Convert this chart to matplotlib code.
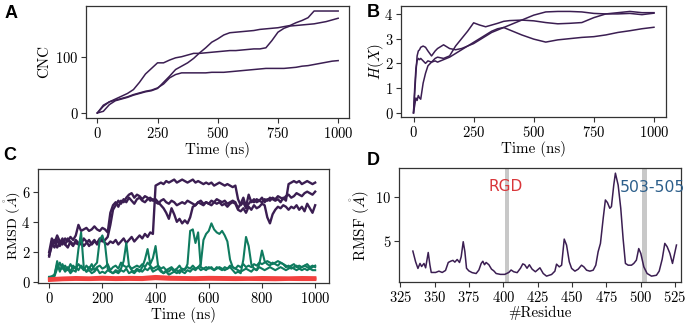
import numpy as np
import matplotlib
matplotlib.use("Agg")
import matplotlib.pyplot as plt

plt.rcParams['font.family'] = 'serif'
plt.rcParams['font.serif'] = ['cmr10']
plt.rcParams['mathtext.fontset'] = 'cm'
plt.rcParams['axes.formatter.use_mathtext'] = True
plt.rcParams['axes.unicode_minus'] = False

PURPLE = '#3b1e52'
GREEN = '#0f7b5f'
RED = '#f2413f'

# ---- panel A: CNC ----
a_time = np.arange(0, 1001, 25)
a_cnc1 = [0, 12, 20, 25, 30, 35, 42, 55, 70, 80, 90, 90, 95, 99, 101, 104, 107, 107, 108, 109,
          110, 111, 112, 112, 113, 114, 115, 115, 117, 130, 145, 152, 156, 157, 158, 159, 160, 162, 164, 167, 170]
a_cnc2 = [0, 3, 15, 22, 25, 28, 32, 35, 38, 40, 44, 55, 66, 78, 84, 90, 98, 108, 117, 127,
          133, 140, 144, 145, 146, 147, 148, 150, 151, 152, 153, 155, 157, 162, 166, 171, 183, 183, 183, 183, 183]
a_cnc3 = [0, 14, 20, 23, 26, 29, 33, 36, 39, 41, 45, 52, 63, 69, 72, 72, 72, 72, 72, 73,
          73, 73, 74, 75, 76, 77, 78, 79, 80, 80, 80, 80, 81, 82, 84, 85, 87, 89, 91, 93, 94]

# ---- panel B: H(X) ----
b_time = [0, 5, 10, 15, 20, 25, 30, 40, 50, 60, 75, 90, 100, 125, 150, 175, 200, 225, 250, 275, 300,
          325, 350, 375, 400, 450, 500, 550, 600, 650, 700, 750, 800, 850, 900, 950, 1000]
b_h1 = [0, 1.0, 1.8, 2.1, 2.2, 2.15, 2.2, 2.1, 2.0, 2.1, 2.05, 2.2, 2.25, 2.2, 2.3, 2.7, 3.0, 3.3, 3.64, 3.55, 3.48,
        3.55, 3.62, 3.7, 3.73, 3.75, 3.72, 3.65, 3.6, 3.62, 3.65, 3.85, 4.0, 4.05, 4.1, 4.05, 4.05]
b_h2 = [0, 0.8, 1.6, 2.3, 2.5, 2.55, 2.65, 2.7, 2.65, 2.5, 2.3, 2.5, 2.6, 2.75, 2.6, 2.55, 2.6, 2.7, 2.8, 2.95, 3.1,
        3.25, 3.35, 3.45, 3.55, 3.75, 3.95, 4.08, 4.1, 4.1, 4.08, 4.02, 4.0, 4.0, 4.02, 3.97, 4.03]
b_h3 = [0, 0.3, 0.6, 0.5, 0.7, 0.6, 0.55, 1.2, 1.6, 1.9, 2.05, 2.1, 2.05, 2.15, 2.25, 2.4, 2.55, 2.7, 2.85, 3.0, 3.15,
        3.3, 3.4, 3.45, 3.35, 3.15, 2.98, 2.86, 2.95, 3.0, 3.05, 3.08, 3.15, 3.25, 3.32, 3.4, 3.46]

# ---- panel C: RMSD ----
c_time = np.arange(0, 1001, 10)
c_purple1 = [1.7, 2.6, 2.3, 2.8, 2.4, 2.7, 2.5, 2.9, 2.6, 2.4, 2.8, 2.6, 2.5, 2.9, 2.7, 2.4, 2.6, 2.8, 2.5, 2.7,
             2.9, 2.6, 2.5, 2.7, 2.6, 2.8, 2.5, 2.7, 2.9, 2.6, 2.8, 3.0, 2.7, 2.9, 3.1, 2.9, 3.2, 3.0, 3.3, 3.2,
             6.4, 6.5, 6.6, 6.5, 6.7, 6.6, 6.7, 6.8, 6.6, 6.7, 6.8, 6.7, 6.6, 6.7, 6.8, 6.6, 6.7, 6.6, 6.5, 6.6,
             6.5, 6.6, 6.4, 6.5, 6.6, 6.5, 6.4, 6.5, 6.4, 6.3, 6.4,
             5.5, 5.1, 5.3, 4.9, 5.2, 5.4, 5.3, 5.5, 5.4, 5.3, 5.5, 5.4, 5.6, 5.5, 5.4, 5.5, 5.3, 5.6, 5.4,
             6.5, 6.6, 6.7, 6.6, 6.7, 6.5, 6.6, 6.7, 6.6, 6.5, 6.6]
c_purple2 = [2.0, 2.9, 2.6, 3.1, 2.7, 2.5, 2.9, 2.7, 3.0, 2.8, 3.1,
             3.8, 3.4, 3.5, 3.6, 3.4, 3.5, 3.7, 3.5, 3.4, 3.6, 3.5,
             3.3, 4.6, 5.1, 5.3, 5.0, 5.4, 5.3, 5.6, 5.8, 5.9, 5.6, 5.8, 5.7, 5.5, 5.7, 5.6, 5.4, 5.5,
             5.3, 5.2, 5.4, 5.5, 5.3, 5.2, 5.4, 5.3, 5.1, 5.2, 5.3, 5.2, 5.4, 5.3, 5.2, 5.1, 5.3, 5.4, 5.2, 5.3,
             5.2, 5.4, 5.3, 5.5, 5.4, 5.3, 5.4, 5.2, 5.3, 5.4, 5.3,
             4.9, 5.2, 5.6, 5.0, 5.8, 5.3, 5.5, 5.3, 5.4, 5.6, 5.3, 5.5, 5.4, 5.6, 5.5, 5.7, 5.6, 5.5, 5.7, 5.8,
             5.6, 5.7, 5.9, 5.8, 5.7, 5.9, 6.0, 5.9, 5.8, 6.0]
c_purple3 = [1.8, 2.4, 2.8, 2.3, 2.6, 2.9, 2.5, 2.3, 2.7, 2.5, 2.6,
             2.5, 2.7, 2.4, 2.6, 2.8, 2.5, 2.7, 2.6, 2.9, 2.7, 2.8, 3.0,
             3.8, 4.8, 5.1, 5.4, 5.2, 5.5, 5.3, 5.6, 5.4, 5.2, 5.5, 5.6, 5.4, 5.3, 5.5, 5.6, 5.4,
             5.5, 5.3, 5.1, 4.9, 4.6, 4.2, 4.9, 4.5, 4.0, 4.2, 3.9, 4.1, 3.9, 4.3, 5.0, 5.1, 5.3, 5.2, 5.1, 5.3,
             5.2, 5.1, 5.3, 5.2, 5.3, 5.1, 5.2, 5.0, 5.2, 5.3, 5.2,
             4.8, 4.7, 4.9, 4.6, 5.0, 4.8, 5.1, 4.9, 5.0, 5.2, 5.1, 4.3, 3.9, 4.5, 4.8, 5.0, 4.9, 5.1, 5.0, 4.8,
             5.0, 4.9, 5.1, 4.8, 5.0, 4.7, 5.2, 4.9, 4.6, 5.1]
c_green1 = [0.35, 0.4, 0.5, 1.2, 0.8, 1.0, 0.7, 0.9, 0.6, 0.8, 0.7, 2.2, 3.3, 1.0, 0.7, 0.8, 0.6, 0.7, 0.9, 0.6,
            0.7, 0.6, 0.8, 0.7, 0.6, 0.8, 0.7, 0.9, 1.4, 2.6, 1.1, 0.8, 0.7, 0.9, 0.8, 0.7, 0.9, 0.8, 1.0, 0.7,
            0.8, 0.9, 0.7, 0.6, 0.8, 0.7, 0.9, 0.7, 0.8, 0.6, 0.9, 0.8, 1.2, 3.4, 3.5, 2.6, 3.3, 1.0, 0.9, 0.8,
            1.0, 0.9, 0.8, 1.0, 0.9, 0.8, 1.0, 0.9, 1.1, 1.0, 0.9, 1.1, 1.0, 1.2, 1.0, 1.1, 1.0, 1.2, 1.1, 1.3,
            1.2, 1.3, 1.4, 1.3, 1.2, 1.3, 1.4, 1.3, 1.2, 1.0, 1.1, 0.9, 1.0, 1.1, 0.9, 1.0, 1.1, 1.0, 0.9, 1.0, 1.1]
c_green2 = [0.3, 0.35, 0.4, 0.9, 1.3, 0.9, 1.1, 0.8, 1.2, 0.9, 1.0, 0.8, 1.1, 0.9, 0.7, 1.0, 0.8, 1.1, 1.3, 2.8,
            3.1, 2.5, 0.9, 0.7, 0.6, 0.7, 0.6, 0.8, 0.7, 0.9, 0.6, 0.7, 0.6, 0.8, 0.7, 1.0, 1.5, 2.2, 1.2, 1.6,
            2.4, 1.0, 0.8, 0.6, 0.7, 0.5, 0.6, 0.7, 0.6, 0.8, 0.7, 0.6, 0.8, 0.7, 0.9, 0.8, 1.0, 1.2, 2.8, 3.2,
            3.4, 3.9, 3.5, 3.3, 3.2, 3.4, 3.1, 2.7, 1.5, 1.0, 0.9, 0.8, 0.7, 0.8, 0.9, 0.8, 0.7, 0.9, 0.8, 1.0,
            0.9, 0.8, 0.9, 1.0, 0.9, 0.8, 0.9, 1.0, 0.9, 0.8, 0.9, 1.0, 0.9, 0.8, 0.9, 0.8, 0.9, 0.8, 0.9, 0.8, 0.8]
c_green3 = [0.35, 0.3, 0.45, 1.4, 0.7, 1.2, 0.8, 1.0, 0.7, 1.1, 0.9, 1.2, 1.0, 0.8, 1.1, 0.9, 1.2, 0.8, 1.0, 1.1,
            0.9, 1.0, 1.2, 0.8, 1.0, 1.1, 0.9, 1.3, 1.1, 1.0, 1.1, 0.9, 1.0, 1.1, 1.0, 1.2, 1.0, 1.3, 1.1, 0.9,
            1.0, 1.1, 0.9, 1.0, 0.8, 0.9, 1.0, 0.8, 0.9, 1.1, 0.8, 0.9, 1.0, 0.9, 1.1, 0.9, 1.0, 0.8, 0.9, 1.0,
            0.9, 1.0, 0.8, 0.9, 1.0, 0.9, 0.8, 0.9, 1.0, 0.8, 0.6, 0.7, 0.6, 1.5, 3.0, 2.4, 1.2, 0.9, 0.8, 1.2,
            2.1, 1.4, 1.2, 1.1, 1.3, 1.2, 1.1, 1.3, 1.2, 1.1, 1.0, 1.1, 1.2, 1.0, 1.1, 1.0, 1.1, 1.2, 1.0, 1.1, 1.0]
c_red_time = np.arange(0, 1001, 50)
c_red1 = [0.18, 0.24, 0.26, 0.24, 0.27, 0.24, 0.26, 0.25, 0.36, 0.28, 0.26, 0.24, 0.27, 0.25, 0.24, 0.26, 0.25, 0.24, 0.26, 0.25, 0.24]
c_red2 = [0.25, 0.3, 0.33, 0.31, 0.35, 0.32, 0.34, 0.33, 0.4, 0.35, 0.33, 0.32, 0.34, 0.33, 0.32, 0.31, 0.33, 0.32, 0.31, 0.33, 0.32]
c_red3 = [0.1, 0.15, 0.17, 0.16, 0.18, 0.16, 0.17, 0.16, 0.22, 0.18, 0.17, 0.16, 0.18, 0.17, 0.16, 0.17, 0.16, 0.15, 0.17, 0.16, 0.16]

# ---- panel D: RMSF ----
d_residue = [334.1, 336.1, 337.8, 339.3, 340.5, 342.2, 343.4, 345.3, 346.5, 347.5, 350.7, 353.1, 355.5, 357.9,
             359.9, 361.6, 363.3, 364.7, 366.4, 368.1, 369.3, 370.8, 372, 373.2, 374.9, 377.3, 380.2, 382.2,
             383.9, 385.1, 386.3, 387.5, 389.5, 391.4, 393.1, 394.8, 397.9, 401.1, 404, 405.7, 407.6, 410.1,
             412.5, 414.2, 415.6, 417.3, 419, 421, 423.4, 426.7, 429.1, 431.5, 435.2, 437.6, 438.8, 440.8,
             442.5, 444.4, 446.1, 448.1, 449.8, 452.2, 454.6, 457, 458.7, 460.7, 463.1, 465.5, 467.4, 469.1,
             470.8, 472.8, 474.4, 475.9, 477.6, 478.8, 480.5, 481.7, 483.7, 485.6, 487.3, 489, 491, 493.4,
             495.1, 497, 498.7, 500.2, 502.4, 504.8, 508, 511.6, 513.6, 515.8, 517.7, 519.4, 521.4, 523.3, 526.2]
d_rmsf = [3.86, 2.64, 1.88, 2.45, 2.1, 2.45, 1.95, 3.7, 2.3, 1.42, 1.42, 1.57, 1.42, 1.65,
          2.56, 2.7, 2.8, 2.6, 2.9, 2.56, 3.2, 4.93, 3.8, 1.9, 1.6, 1.4, 1.3, 1.7,
          2.45, 2.7, 2.3, 2.56, 2.3, 1.8, 1.6, 1.3, 1.2, 1.2, 1.42, 1.7, 1.5, 1.4,
          1.9, 2.4, 2.3, 1.9, 2.3, 1.8, 1.5, 1.95, 1.3, 1.0, 1.19, 1.57, 2.37, 2.06,
          2.25, 5.23, 4.55, 2.63, 1.88, 1.57, 1.8, 2.25, 2.06, 1.68, 1.57, 1.68, 2.25, 3.78,
          4.74, 7.6, 9.7, 9.4, 8.75, 8.94, 11.4, 12.76, 11.4, 8.75, 5.3, 2.45, 2.25, 2.25,
          2.45, 2.83, 4.15, 3.6, 2.06, 1.3, 1.0, 1.1, 1.57, 2.94, 4.74, 4.36, 3.6, 2.45, 4.55]
d_bands = [(401.2, 404.1), (500.8, 504.4)]

W, H = 692, 325
fig = plt.figure(figsize=(W / 100, H / 100), dpi=100)


def box(l, r, t, b):
    return [l / W, 1 - b / H, (r - l) / W, (b - t) / H]


axA = fig.add_axes(box(86, 349, 6, 118))
axB = fig.add_axes(box(401, 666, 6, 117))
axC = fig.add_axes(box(38, 329, 169, 283))
axD = fig.add_axes(box(399, 681, 168, 282))

LBL = 10.8
for ax in (axA, axB, axC, axD):
    for s in ax.spines.values():
        s.set_color('#333333')
        s.set_linewidth(0.9)
    ax.tick_params(labelsize=10.5, length=3.5, width=0.8, color='#333333', pad=2)

for y in (a_cnc1, a_cnc2, a_cnc3):
    axA.plot(a_time, y, color=PURPLE, lw=1.1)
axA.set_xlim(-47, 1045)
axA.set_ylim(-9, 192)
axA.set_xticks([0, 250, 500, 750, 1000])
axA.set_yticks([0, 100])
axA.set_xlabel('Time (ns)', fontsize=LBL, labelpad=1)
axA.set_ylabel('CNC', fontsize=LBL)
axA.yaxis.set_label_coords(-0.133, 0.5)

for y in (b_h1, b_h2, b_h3):
    axB.plot(b_time, y, color=PURPLE, lw=1.1)
axB.set_xlim(-52, 1050)
axB.set_ylim(-0.17, 4.32)
axB.set_xticks([0, 250, 500, 750, 1000])
axB.set_yticks([0, 1, 2, 3, 4])
axB.set_xlabel('Time (ns)', fontsize=LBL, labelpad=1)
axB.set_ylabel(r'$H(X)$', fontsize=LBL)
axB.yaxis.set_label_coords(-0.058, 0.5)

for y in (c_purple1, c_purple2, c_purple3):
    axC.plot(c_time, y, color=PURPLE, lw=1.7)
for y in (c_green1, c_green2, c_green3):
    axC.plot(c_time, y, color=GREEN, lw=1.5)
for y in (c_red1, c_red2, c_red3):
    axC.plot(c_red_time, y, color=RED, lw=1.8)
axC.set_xlim(-42, 1052)
axC.set_ylim(-0.05, 7.5)
axC.set_xticks([0, 200, 400, 600, 800, 1000])
axC.set_yticks([0, 2, 4, 6])
axC.set_xlabel('Time (ns)', fontsize=LBL, labelpad=1)
axC.set_ylabel(r'RMSD ($\mathring{A}$)', fontsize=10.2)
axC.yaxis.set_label_coords(-0.054, 0.5)

for lo, hi in d_bands:
    axD.axvspan(lo, hi, color='#c8c8c8', lw=0)
axD.plot(d_residue, d_rmsf, color=PURPLE, lw=1.1)
axD.set_xlim(324, 529.5)
axD.set_ylim(0.33, 13.35)
axD.set_xticks(np.arange(325, 526, 25))
axD.set_yticks([5, 10])
axD.set_xlabel('#Residue', fontsize=LBL, labelpad=1)
axD.set_ylabel(r'RMSF ($\mathring{A}$)', fontsize=LBL)
axD.yaxis.set_label_coords(-0.094, 0.5)
axD.text(401.5, 11.2, 'RGD', color='#d9363a', fontsize=11, family='DejaVu Sans',
         ha='center', va='center')
axD.text(508.7, 11.1, '503-505', color='#2d5f8b', fontsize=11.3, family='DejaVu Sans',
         ha='center', va='center', clip_on=False)

for letter, x, y in (('A', 5, 18.3), ('B', 367, 16.7), ('C', 3, 160), ('D', 367, 165)):
    fig.text(x / W, 1 - y / H, letter, fontsize=13, fontweight='bold',
             family='Liberation Sans', va='baseline', ha='left')

fig.savefig('out.png', dpi=100)
